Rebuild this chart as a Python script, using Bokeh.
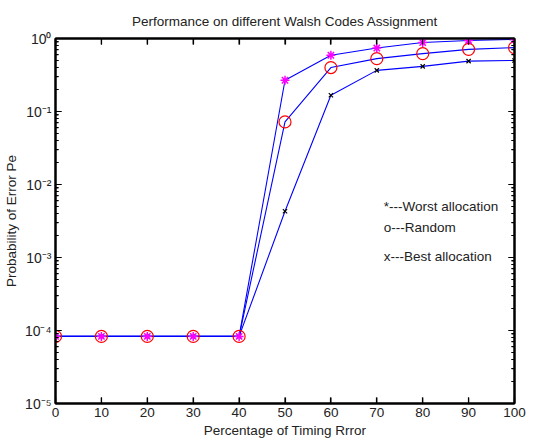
import math
from bokeh.plotting import figure
from bokeh.models import LogAxis, LinearAxis, Label, FixedTicker, LogTicker, ColumnDataSource
from bokeh.embed import file_html
from bokeh.resources import INLINE

x = [0, 10, 20, 30, 40, 50, 60, 70, 80, 90, 100]
worst = [8.3e-5, 8.3e-5, 8.3e-5, 8.3e-5, 8.3e-5, 0.268, 0.59, 0.74, 0.88, 0.94, 0.97]
random_ = [8.3e-5, 8.3e-5, 8.3e-5, 8.3e-5, 8.3e-5, 0.072, 0.40, 0.53, 0.62, 0.71, 0.75]
best = [8.3e-5, 8.3e-5, 8.3e-5, 8.3e-5, 8.3e-5, 0.0043, 0.167, 0.366, 0.415, 0.49, 0.50]

x_ticks = [0, 10, 20, 30, 40, 50, 60, 70, 80, 90, 100]
y_ticks = [1e-5, 1e-4, 1e-3, 1e-2, 1e-1, 1]
y_tick_labels = ["10\u207b\u2075", "10\u207b\u2074", "10\u207b\u00b3", "10\u207b\u00b2", "10\u207b\u00b9", "10\u2070"]

title_text = "Performance on different Walsh Codes Assignment"
x_label = "Percentage of Timing Rrror"
y_label = "Probability of Error Pe"
notes = ["*---Worst allocation", "o---Random", "x---Best allocation"]
note_x = [71.5, 71.5, 71.5]
note_y = [5.0e-3, 2.6e-3, 1.04e-3]

FONT = "Liberation Sans"
FS = "13.5px"
X0, X1, Y0, Y1 = 0, 100, 1e-5, 1

p = figure(width=534, height=440, y_axis_type="log",
           x_range=(X0, X1), y_range=(Y0, Y1),
           output_backend="svg", toolbar_location=None,
           min_border_left=55, min_border_right=20, min_border_top=38, min_border_bottom=35)
p.title.text = title_text
p.title.align = "center"
p.title.text_font = FONT
p.title.text_font_size = FS
p.title.text_font_style = "normal"
p.title.text_color = "#222222"
p.title.standoff = 20

p.xgrid.visible = False
p.ygrid.visible = False
p.outline_line_color = "black"
p.outline_line_width = 2

def style_axis(ax, labels=True):
    ax.axis_line_width = 2
    ax.axis_line_color = "black"
    ax.major_tick_in = 6
    ax.major_tick_out = 0
    ax.minor_tick_in = 3
    ax.minor_tick_out = 0
    ax.major_tick_line_color = "black"
    ax.minor_tick_line_color = "black"
    ax.major_tick_line_width = 1.2
    ax.minor_tick_line_width = 1.2
    ax.major_label_text_font = FONT
    ax.major_label_text_font_size = FS
    ax.major_label_text_color = "#222222" if labels else None
    ax.major_label_standoff = 4 if labels else 0
    ax.axis_label_text_font = FONT
    ax.axis_label_text_font_size = FS
    ax.axis_label_text_font_style = "normal"
    ax.axis_label_text_color = "#222222"

xa = p.xaxis[0]
xa.ticker = FixedTicker(ticks=x_ticks)
xa.axis_label = x_label
style_axis(xa)
xa.axis_label_standoff = 3
xa.major_label_standoff = 4

ya = p.yaxis[0]
ya.ticker = LogTicker(num_minor_ticks=10)
ya.major_label_overrides = {t: l for t, l in zip(y_ticks, y_tick_labels)}
ya.axis_label = y_label
style_axis(ya)
ya.major_label_text_font_size = "14px"
ya.axis_label_standoff = 3
ya.major_label_standoff = 4

ra = LogAxis(ticker=LogTicker(num_minor_ticks=10))
style_axis(ra, labels=False)
p.add_layout(ra, "right")
ta = LinearAxis(ticker=FixedTicker(ticks=x_ticks))
style_axis(ta, labels=False)
ta.minor_tick_in = 0
p.add_layout(ta, "above")

# inward frame ticks as short screen-length rays from the frame edges
minor_y = [m * t for t in y_ticks[:-1] for m in range(2, 10)]
n_x, n_y, n_m = len(x_ticks), len(y_ticks), len(minor_y)
p.ray(x=x_ticks, y=[Y0] * n_x, length=6, length_units="screen", angle=math.pi / 2,
      line_color="black", line_width=1.2)
p.ray(x=x_ticks, y=[Y1] * n_x, length=6, length_units="screen", angle=-math.pi / 2,
      line_color="black", line_width=1.2)
p.ray(x=[X0] * n_y, y=y_ticks, length=6, length_units="screen", angle=0,
      line_color="black", line_width=1.2)
p.ray(x=[X1] * n_y, y=y_ticks, length=6, length_units="screen", angle=math.pi,
      line_color="black", line_width=1.2)
p.ray(x=[X0] * n_m, y=minor_y, length=3, length_units="screen", angle=0,
      line_color="black", line_width=1.1)
p.ray(x=[X1] * n_m, y=minor_y, length=3, length_units="screen", angle=math.pi,
      line_color="black", line_width=1.1)

src = ColumnDataSource(dict(x=x, worst=worst, random=random_, best=best))
for col in ["best", "random", "worst"]:
    p.line("x", col, source=src, line_color="blue", line_width=1.1)
p.scatter("x", "best", source=src, marker="x", size=6, line_color="black", line_width=1.2)
p.scatter("x", "random", source=src, marker="circle", size=12, line_color="red",
          fill_color=None, line_width=1.2)
p.scatter("x", "worst", source=src, marker="asterisk", size=9, line_color="magenta", line_width=1.5)

for t, nx, ny in zip(notes, note_x, note_y):
    p.add_layout(Label(x=nx, y=ny, text=t, text_font=FONT, text_font_size=FS,
                       text_baseline="middle", text_color="#222222"))

open("out.html", "w").write(file_html(p, INLINE))
